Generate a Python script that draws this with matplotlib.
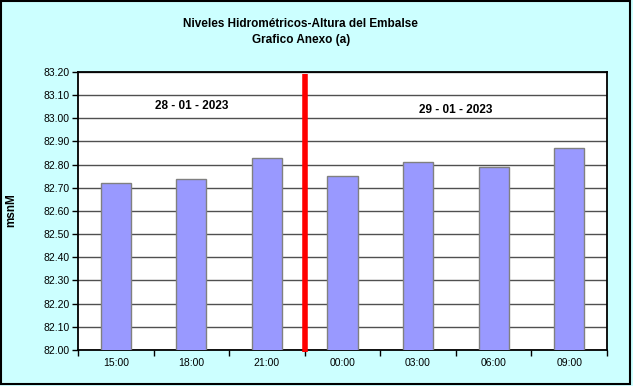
import matplotlib
matplotlib.use("Agg")
import matplotlib.pyplot as plt
import numpy as np
from matplotlib.patches import Rectangle
from matplotlib.ticker import FixedLocator, NullFormatter

horas = ["15:00", "18:00", "21:00", "00:00", "03:00", "06:00", "09:00"]
niveles = [82.72, 82.74, 82.83, 82.75, 82.81, 82.79, 82.87]
fechas = ["28 - 01 - 2023", "29 - 01 - 2023"]
y_ticks = [82.00, 82.10, 82.20, 82.30, 82.40, 82.50, 82.60, 82.70, 82.80, 82.90, 83.00, 83.10, 83.20]
corte_dia = 2.5  # between 21:00 and 00:00

plt.rcParams["font.family"] = ["Liberation Sans", "DejaVu Sans"]

bg = "#CCFFFF"
fig = plt.figure(figsize=(6.33, 3.86), dpi=100)
fig.patch.set_facecolor(bg)
fig.patches.append(Rectangle((0.002, 0.004), 0.994, 0.993, transform=fig.transFigure,
                             fill=False, edgecolor="black", linewidth=1.5))

ax = fig.add_axes([0.1232, 0.0933, 0.8357, 0.7202])
ax.set_facecolor("white")

x = np.arange(len(horas))
ax.bar(x, niveles, width=0.4, color="#9999FF", edgecolor="#808080", linewidth=1, zorder=3)

ax.set_xlim(-0.5, len(horas) - 0.5)
ax.set_ylim(y_ticks[0], y_ticks[-1])
ax.set_yticks(y_ticks)
ax.set_yticklabels([f"{v:.2f}" for v in y_ticks], fontsize=7.5)
ax.grid(axis="y", color="#505050", linewidth=1, zorder=1)

ax.set_xticks(x)
ax.set_xticklabels(horas, fontsize=7.5)
ax.tick_params(axis="x", length=0, pad=6)
ax.xaxis.set_minor_locator(FixedLocator(np.arange(-0.5, len(horas), 1.0)))
ax.xaxis.set_minor_formatter(NullFormatter())
ax.tick_params(axis="x", which="minor", length=4, width=1, direction="out")
ax.tick_params(axis="y", length=4, width=1, direction="out", pad=2)

for s in ax.spines.values():
    s.set_linewidth(1.3)
    s.set_color("black")

ax.plot([corte_dia, corte_dia], [82.0 - 0.01, 83.19], color="#FF0000", linewidth=4,
        zorder=5, clip_on=False, solid_capstyle="butt")

ax.text(1.0, 83.055, fechas[0], ha="center", va="center", fontsize=8.5, fontweight="bold")
ax.text(4.5, 83.035, fechas[1], ha="center", va="center", fontsize=8.5, fontweight="bold")

fig.text(0.017, 0.455, "msnM", rotation=90, ha="center", va="center",
         fontsize=8.5, fontweight="bold")

fig.text(0.475, 0.937, "Niveles Hidrométricos-Altura del Embalse", ha="center", va="center",
         fontsize=8.5, fontweight="bold")
fig.text(0.475, 0.896, "Grafico Anexo (a)", ha="center", va="center",
         fontsize=8.5, fontweight="bold")

fig.savefig("out.png", dpi=100, facecolor=fig.get_facecolor())
